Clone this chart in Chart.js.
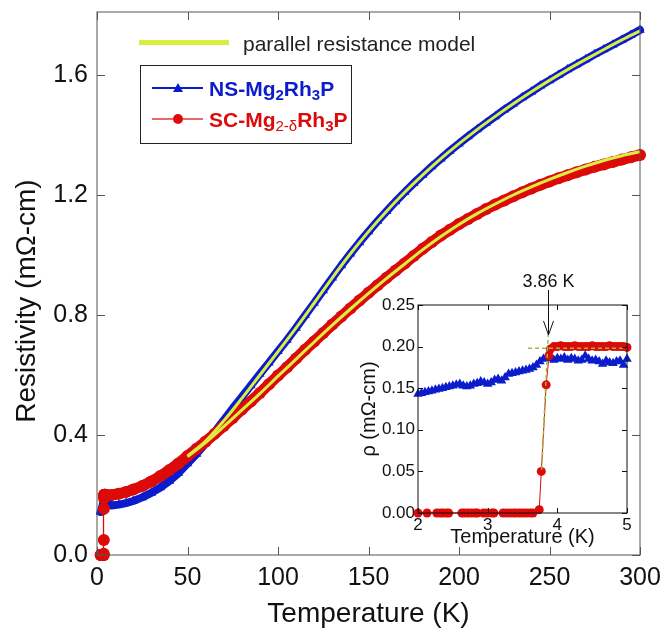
<!DOCTYPE html>
<html>
<head>
<meta charset="utf-8">
<script src="https://cdn.jsdelivr.net/npm/chart.js@4.4.0/dist/chart.umd.min.js"></script>
<style>
  body { margin: 0; background: #fff; }
  #wrap { position: relative; width: 664px; height: 628px; font-family: "Liberation Sans", Arial, sans-serif; }
  #main { position: absolute; left: 0; top: 0; }
  #inset { position: absolute; left: 340px; top: 265px; }
  .lbl { position: absolute; white-space: nowrap; font-size: 21px; line-height: 21px; }
  .sub { font-size: 15px; position: relative; top: 4px; }
  .thin { font-weight: normal; }
</style>
</head>
<body>
<div id="wrap">
  <canvas id="main" width="664" height="628"></canvas>
  <canvas id="inset" width="300" height="290"></canvas>

  <div style="position:absolute;left:139px;top:40px;width:90px;height:5px;background:#d8ef3f"></div>
  <div class="lbl" style="left:243px;top:33px;color:#222">parallel resistance model</div>

  <div style="position:absolute;left:140px;top:65px;width:210px;height:77px;border:1px solid #222"></div>
  <div style="position:absolute;left:152px;top:87px;width:51px;height:1.5px;background:#0b1ccc"></div>
  <div style="position:absolute;left:173px;top:83px;width:0;height:0;border-left:5px solid transparent;border-right:5px solid transparent;border-bottom:9px solid #0b1ccc"></div>
  <div class="lbl" style="left:209px;top:78px;color:#0b1ccc;font-weight:bold">NS-Mg<span class="sub">2</span>Rh<span class="sub">3</span>P</div>
  <div style="position:absolute;left:152px;top:118px;width:51px;height:2px;background:#e86a6a"></div>
  <div style="position:absolute;left:173px;top:114px;width:10px;height:10px;border-radius:50%;background:#dd0a0a"></div>
  <div class="lbl" style="left:209px;top:109px;color:#dd0a0a;font-weight:bold">SC-Mg<span class="sub thin">2-δ</span>Rh<span class="sub">3</span>P</div>
</div>
<script>
// temperature in K, resistivity in mOhm-cm

// low temperature data (inset)
const insetNsT = [2.0, 2.05, 2.1, 2.15, 2.2, 2.25, 2.3, 2.35, 2.4, 2.45, 2.5, 2.55, 2.6, 2.65, 2.7, 2.75, 2.8, 2.85, 2.9, 2.95,
  3.0, 3.05, 3.1, 3.15, 3.2, 3.25, 3.3, 3.35, 3.4, 3.45, 3.5, 3.55, 3.6, 3.65, 3.7, 3.75, 3.8, 3.85, 3.9, 3.95,
  4.0, 4.05, 4.1, 4.15, 4.2, 4.25, 4.3, 4.35, 4.4, 4.45, 4.5, 4.55, 4.6, 4.65, 4.7, 4.75, 4.8, 4.85, 4.9, 4.95, 5.0];
const insetNsRho = [0.143, 0.144, 0.145, 0.146, 0.147, 0.148, 0.149, 0.15, 0.151, 0.152, 0.153, 0.154, 0.155, 0.153, 0.152, 0.153, 0.155, 0.156, 0.158, 0.157,
  0.155, 0.157, 0.16, 0.161, 0.159, 0.163, 0.167, 0.168, 0.169, 0.17, 0.171, 0.172, 0.173, 0.175, 0.178, 0.182, 0.185, 0.188, 0.186, 0.184,
  0.186, 0.185, 0.187, 0.184, 0.186, 0.185, 0.183, 0.184, 0.189, 0.185, 0.183, 0.184, 0.182, 0.179, 0.183, 0.181, 0.18, 0.182, 0.183, 0.178, 0.185];

const insetScT = [2.0, 2.13, 2.27, 2.32, 2.36, 2.41, 2.44, 2.63, 2.67, 2.72, 2.77, 2.82, 2.85, 2.94, 2.99, 3.06, 3.09, 3.22, 3.27, 3.32,
  3.37, 3.41, 3.46, 3.51, 3.56, 3.61, 3.65, 3.74, 3.77, 3.84, 3.88, 3.9,
  3.95, 4.0, 4.05, 4.1, 4.15, 4.2, 4.25, 4.3, 4.35, 4.4, 4.45, 4.5, 4.55, 4.6, 4.65, 4.7, 4.75, 4.8, 4.85, 4.9, 4.95, 5.0];
const insetScRho = [0, 0, 0, 0, 0, 0, 0, 0, 0, 0, 0, 0, 0, 0, 0, 0, 0, 0, 0, 0,
  0, 0, 0, 0, 0, 0, 0, 0.004, 0.05, 0.154, 0.189, 0.197,
  0.2, 0.2, 0.201, 0.2, 0.2, 0.2, 0.201, 0.2, 0.2, 0.2, 0.2, 0.201, 0.2, 0.2, 0.2, 0.2, 0.201, 0.2, 0.2, 0.2, 0.2, 0.199];

// full range data above 5 K
const nsT = [8, 12, 16, 20, 25, 30, 35, 40, 45, 50, 55, 60, 65, 70, 75, 80, 85, 90, 95, 100,
  105, 110, 115, 120, 125, 130, 135, 140, 145, 150, 155, 160, 165, 170, 175, 180, 185, 190, 195, 200,
  205, 210, 215, 220, 225, 230, 235, 240, 245, 250, 255, 260, 265, 270, 275, 280, 285, 290, 295, 300];
const nsRho = [0.165, 0.168, 0.173, 0.18, 0.192, 0.207, 0.225, 0.247, 0.273, 0.305, 0.337, 0.372, 0.41, 0.449, 0.489, 0.527, 0.565, 0.603, 0.641, 0.679,
  0.717, 0.757, 0.799, 0.84, 0.882, 0.924, 0.965, 1.004, 1.042, 1.078, 1.113, 1.146, 1.178, 1.209, 1.239, 1.267, 1.295, 1.321, 1.347, 1.371,
  1.395, 1.418, 1.44, 1.462, 1.484, 1.504, 1.525, 1.544, 1.564, 1.582, 1.6, 1.618, 1.635, 1.652, 1.669, 1.685, 1.701, 1.717, 1.733, 1.75];

const scT = nsT;
const scRho = [0.2, 0.204, 0.21, 0.218, 0.23, 0.245, 0.263, 0.283, 0.305, 0.33, 0.354, 0.378, 0.404, 0.43, 0.457, 0.485, 0.512, 0.54, 0.569, 0.598,
  0.626, 0.655, 0.684, 0.712, 0.74, 0.768, 0.795, 0.822, 0.848, 0.874, 0.899, 0.924, 0.948, 0.972, 0.997, 1.021, 1.043, 1.065, 1.084, 1.103,
  1.12, 1.137, 1.153, 1.168, 1.182, 1.196, 1.209, 1.222, 1.234, 1.245, 1.256, 1.266, 1.276, 1.285, 1.294, 1.302, 1.31, 1.318, 1.326, 1.333];

// parallel resistance model curves
const fitT = [50, 60, 70, 80, 90, 100, 110, 120, 130, 140, 150, 160, 170, 180, 190, 200, 210, 220, 230, 240, 250, 260, 270, 280, 290, 300];
const fitNsRho = [0.33, 0.38, 0.447, 0.522, 0.6, 0.678, 0.757, 0.84, 0.924, 1.004, 1.078, 1.146, 1.209, 1.267, 1.321, 1.371,
  1.418, 1.462, 1.504, 1.544, 1.582, 1.618, 1.652, 1.685, 1.717, 1.747];
const fitScRho = [0.328, 0.375, 0.428, 0.483, 0.538, 0.596, 0.653, 0.71, 0.766, 0.82, 0.872, 0.922, 0.97, 1.018, 1.062, 1.102,
  1.138, 1.17, 1.2, 1.227, 1.252, 1.275, 1.296, 1.315, 1.331, 1.344];

// Tc construction lines
const tcSlopeT = [3.775, 3.87];
const tcSlopeRho = [0.052, 0.216];
const tcLevelT = [3.58, 5.0];
const tcLevelRho = [0.198, 0.198];
const tcValue = 3.86;
const tcLabel = "3.86 K";

// tick values
const mainXTicks = [0, 50, 100, 150, 200, 250, 300];
const mainYTicks = [0, 0.4, 0.8, 1.2, 1.6];
const insetXTicks = [2, 3, 4, 5];
const insetYTicks = [0, 0.05, 0.1, 0.15, 0.2, 0.25];

const FONT = "'Liberation Sans', Arial, sans-serif";
const BLUE = "#0b1ccc";
const RED = "#dd0a0a";
const FIT = "#d8ef3f";
const GUIDE = "#96be3c";

function pts(xs, ys) {
  return xs.map((x, i) => ({ x: x, y: ys[i] }));
}

// box around the plot with inward ticks on all four sides
const frame = {
  id: "frame",
  afterDraw(chart, args, o) {
    const { ctx, chartArea: a, scales } = chart;
    ctx.save();
    ctx.strokeStyle = o.color;
    ctx.lineWidth = o.width;
    ctx.strokeRect(a.left, a.top, a.right - a.left, a.bottom - a.top);
    ctx.beginPath();
    scales.x.ticks.forEach(t => {
      const px = Math.round(scales.x.getPixelForValue(t.value)) + 0.5;
      ctx.moveTo(px, a.bottom); ctx.lineTo(px, a.bottom - o.len);
      ctx.moveTo(px, a.top); ctx.lineTo(px, a.top + o.len);
    });
    scales.y.ticks.forEach(t => {
      const py = Math.round(scales.y.getPixelForValue(t.value)) + 0.5;
      ctx.moveTo(a.left, py); ctx.lineTo(a.left + o.len, py);
      ctx.moveTo(a.right, py); ctx.lineTo(a.right - o.len, py);
    });
    ctx.stroke();
    ctx.restore();
  }
};

const sideTitle = {
  id: "sideTitle",
  afterDraw(chart, args, o) {
    const ctx = chart.ctx;
    ctx.save();
    ctx.translate(o.x, o.y);
    ctx.rotate(-Math.PI / 2);
    ctx.font = o.font;
    ctx.fillStyle = o.color;
    ctx.textAlign = "center";
    ctx.textBaseline = "middle";
    ctx.fillText(o.text, 0, 0);
    ctx.restore();
  }
};

const tcMarker = {
  id: "tcMarker",
  afterDraw(chart, args, o) {
    const { ctx, scales: { x, y } } = chart;
    const px = Math.round(x.getPixelForValue(o.value)) + 0.5;
    const y0 = y.getPixelForValue(o.from);
    const y1 = y.getPixelForValue(o.to);
    ctx.save();
    ctx.strokeStyle = "#111";
    ctx.lineWidth = 1;
    ctx.beginPath();
    ctx.moveTo(px, y0); ctx.lineTo(px, y1);
    ctx.moveTo(px - 5, y1 - 14); ctx.lineTo(px, y1); ctx.lineTo(px + 5, y1 - 14);
    ctx.stroke();
    ctx.font = "18px " + FONT;
    ctx.fillStyle = "#111";
    ctx.textAlign = "center";
    ctx.textBaseline = "alphabetic";
    ctx.fillText(o.text, px, y0 - 3);
    ctx.restore();
  }
};

function fixedTicks(list) {
  return s => { s.ticks = list.map(v => ({ value: v })); };
}

const noGrid = { display: false, drawTicks: false };

// main chart
new Chart(document.getElementById("main"), {
  type: "line",
  data: {
    datasets: [
      { data: pts(fitT, fitNsRho), borderColor: FIT, borderWidth: 3, pointRadius: 0, cubicInterpolationMode: "monotone", order: 0 },
      { data: pts(fitT, fitScRho), borderColor: FIT, borderWidth: 3, pointRadius: 0, cubicInterpolationMode: "monotone", order: 0 },
      {
        data: pts(insetScT.concat(scT), insetScRho.concat(scRho)),
        borderColor: RED, backgroundColor: RED, borderWidth: 11, borderJoinStyle: "round", borderCapStyle: "round",
        pointStyle: "circle", pointRadius: 6, pointBorderWidth: 0, clip: false, order: 1,
        segment: { borderWidth: c => (c.p1.parsed.x <= 3.9 ? 1.3 : 11) }
      },
      {
        data: pts(insetNsT.concat(nsT), insetNsRho.concat(nsRho)),
        borderColor: BLUE, backgroundColor: BLUE, borderWidth: 8, borderJoinStyle: "round", borderCapStyle: "round",
        pointStyle: "triangle", pointRadius: 5.5, pointBorderWidth: 0, clip: false, order: 2
      }
    ]
  },
  options: {
    responsive: false,
    animation: false,
    devicePixelRatio: 1,
    events: [],
    layout: { padding: { left: 0, right: 24, top: 12, bottom: 0 } },
    plugins: {
      legend: { display: false },
      tooltip: { enabled: false },
      frame: { color: "#555", width: 1, len: 8 },
      sideTitle: { text: "Resistivity (mΩ-cm)", x: 27, y: 301, font: "28px " + FONT, color: "#111" }
    },
    scales: {
      x: {
        type: "linear", min: 0, max: 300,
        afterBuildTicks: fixedTicks(mainXTicks),
        afterFit: s => { s.height = 73; s.paddingLeft = 0; s.paddingRight = 0; },
        grid: noGrid, border: { display: false },
        ticks: { font: { size: 25, family: FONT }, color: "#111", padding: 8, maxRotation: 0, autoSkip: false },
        title: { display: true, text: "Temperature (K)", font: { size: 28, family: FONT }, color: "#111", padding: { top: 0, bottom: -3 } }
      },
      y: {
        type: "linear", min: 0, max: 1.81,
        afterBuildTicks: fixedTicks(mainYTicks),
        afterFit: s => { s.width = 97; s.paddingTop = 0; s.paddingBottom = 0; },
        grid: noGrid, border: { display: false },
        ticks: { font: { size: 25, family: FONT }, color: "#111", padding: 9, callback: v => v.toFixed(1) }
      }
    }
  },
  plugins: [frame, sideTitle]
});

// inset: superconducting transition
new Chart(document.getElementById("inset"), {
  type: "line",
  data: {
    datasets: [
      { data: pts(tcSlopeT, tcSlopeRho), borderColor: GUIDE, borderWidth: 1.5, borderDash: [4, 3], pointRadius: 0, order: 0 },
      { data: pts(tcLevelT, tcLevelRho), borderColor: GUIDE, borderWidth: 1.5, borderDash: [4, 3], pointRadius: 0, order: 0 },
      {
        data: pts(insetScT, insetScRho), borderColor: RED, backgroundColor: RED, borderWidth: 1,
        pointStyle: "circle", pointRadius: 4.5, pointBorderWidth: 0, clip: false, order: 1
      },
      {
        data: pts(insetNsT, insetNsRho), borderColor: BLUE, backgroundColor: BLUE, borderWidth: 1,
        pointStyle: "triangle", pointRadius: 5.5, pointBorderWidth: 0, clip: false, order: 2
      }
    ]
  },
  options: {
    responsive: false,
    animation: false,
    devicePixelRatio: 1,
    events: [],
    layout: { padding: { left: 0, right: 13, top: 40, bottom: 0 } },
    plugins: {
      legend: { display: false },
      tooltip: { enabled: false },
      frame: { color: "#111", width: 1, len: 5 },
      tcMarker: { value: tcValue, from: 0.268, to: 0.214, text: tcLabel }
    },
    scales: {
      x: {
        type: "linear", min: 2, max: 5,
        afterBuildTicks: fixedTicks(insetXTicks),
        afterFit: s => { s.height = 42; s.paddingLeft = 0; s.paddingRight = 0; },
        grid: noGrid, border: { display: false },
        ticks: { font: { size: 17, family: FONT }, color: "#111", padding: 2, maxRotation: 0, autoSkip: false },
        title: { display: true, text: "Temperature (K)", font: { size: 20, family: FONT }, color: "#111", padding: { top: 0, bottom: 6 } }
      },
      y: {
        type: "linear", min: 0, max: 0.25,
        afterBuildTicks: fixedTicks(insetYTicks),
        afterFit: s => { s.width = 78; s.paddingTop = 0; s.paddingBottom = 0; },
        grid: noGrid, border: { display: false },
        ticks: { font: { size: 17, family: FONT }, color: "#111", padding: 3, callback: v => v.toFixed(2) },
        title: { display: true, text: "ρ (mΩ-cm)", font: { size: 20, family: FONT }, color: "#111", padding: { top: 17, bottom: 0 } }
      }
    }
  },
  plugins: [frame, tcMarker]
});
</script>
</body>
</html>
